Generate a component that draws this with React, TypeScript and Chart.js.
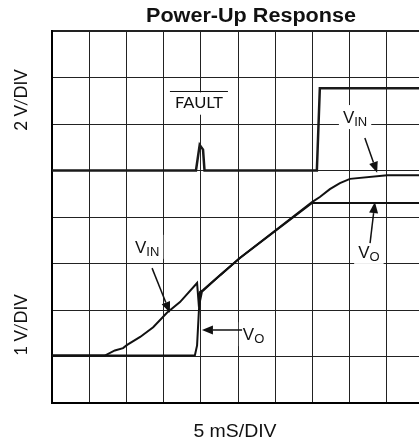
import React, { useEffect, useRef } from "react";
import { Chart, registerables } from "chart.js";

Chart.register(...registerables);

// Data in scope divisions (x: 5 mS/div, y: divisions)
const faultX = [0, 3.87, 3.97, 4.06, 4.1, 7.12, 7.2, 10];
const faultY = [5.0, 5.0, 5.55, 5.45, 5.0, 5.0, 6.77, 6.77];

const vinX = [0, 1.42, 1.69, 1.91, 2.02, 2.37, 2.72, 3.09, 3.44, 3.9, 3.94, 3.98, 4.06, 4.52, 5.05, 6.02, 6.99, 7.2, 7.47, 7.74, 8.01, 9.01, 10];
const vinY = [1.02, 1.02, 1.13, 1.18, 1.25, 1.42, 1.63, 1.94, 2.17, 2.58, 2.17, 2.39, 2.43, 2.75, 3.12, 3.72, 4.32, 4.43, 4.6, 4.73, 4.82, 4.9, 4.9];

const voX = [0, 3.84, 3.9, 3.95, 3.98, 4.03, 4.52, 5.05, 6.99, 10];
const voY = [1.02, 1.02, 1.24, 2.0, 2.2, 2.39, 2.75, 3.12, 4.3, 4.3];

const titleText = "Power-Up Response";
const xAxisLabel = "5 mS/DIV";
const yLabelTop = "2 V/DIV";
const yLabelBottom = "1 V/DIV";

const toPts = (xs: number[], ys: number[]) => xs.map((x, i) => ({ x, y: ys[i] }));

function drawText(ctx: CanvasRenderingContext2D, text: string, x: number, y: number, font: string, sx: number, align: CanvasTextAlign, rot = 0) {
  ctx.save();
  ctx.font = font;
  ctx.fillStyle = "#111";
  ctx.translate(x, y);
  if (rot) ctx.rotate(rot);
  ctx.scale(sx, 1);
  ctx.textAlign = align;
  ctx.textBaseline = "alphabetic";
  ctx.fillText(text, 0, 0);
  ctx.restore();
}

function arrow(ctx: CanvasRenderingContext2D, x1: number, y1: number, x2: number, y2: number) {
  const ang = Math.atan2(y2 - y1, x2 - x1);
  const len = 11, w = 4.5;
  const bx = x2 - len * Math.cos(ang), by = y2 - len * Math.sin(ang);
  ctx.save();
  ctx.strokeStyle = "#111";
  ctx.fillStyle = "#111";
  ctx.lineWidth = 1.5;
  ctx.beginPath();
  ctx.moveTo(x1, y1);
  ctx.lineTo(bx, by);
  ctx.stroke();
  ctx.beginPath();
  ctx.moveTo(x2, y2);
  ctx.lineTo(bx + w * Math.sin(ang), by - w * Math.cos(ang));
  ctx.lineTo(bx - w * Math.sin(ang), by + w * Math.cos(ang));
  ctx.closePath();
  ctx.fill();
  ctx.restore();
}

function subLabel(ctx: CanvasRenderingContext2D, x: number, y: number, main: string, sub: string) {
  ctx.save();
  ctx.font = "17px 'Liberation Sans', Arial, sans-serif";
  const w1 = ctx.measureText(main).width;
  ctx.font = "13px 'Liberation Sans', Arial, sans-serif";
  const w2 = ctx.measureText(sub).width;
  ctx.fillStyle = "#fff";
  ctx.fillRect(x - 4, y - 18, w1 + w2 + 8, 24);
  ctx.restore();
  drawText(ctx, main, x, y, "17px 'Liberation Sans', Arial, sans-serif", 1, "left");
  drawText(ctx, sub, x + w1, y + 3, "13px 'Liberation Sans', Arial, sans-serif", 1, "left");
}

const annotationPlugin = {
  id: "scopeAnnotations",
  afterDraw(chart: any) {
    const ctx: CanvasRenderingContext2D = chart.ctx;
    const xs = chart.scales.x, ys = chart.scales.y;
    const px = (v: number) => xs.getPixelForValue(v);
    const py = (v: number) => ys.getPixelForValue(v);
    const ca = chart.chartArea;

    // Title and axis labels
    drawText(ctx, titleText, 251, 22, "bold 20px 'Liberation Sans', Arial, sans-serif", 1.08, "center");
    drawText(ctx, xAxisLabel, 235, 437, "18px 'Liberation Sans', Arial, sans-serif", 1.08, "center");
    drawText(ctx, yLabelTop, 27, 100, "17px Lato, 'Open Sans', sans-serif", 1, "center", -Math.PI / 2);
    drawText(ctx, yLabelBottom, 27, 325, "17px Lato, 'Open Sans', sans-serif", 1, "center", -Math.PI / 2);

    // FAULT label with overline
    ctx.save();
    ctx.fillStyle = "#fff";
    ctx.fillRect(px(3.2), py(6.68), px(4.7) - px(3.2), py(6.2) - py(6.68));
    ctx.strokeStyle = "#111";
    ctx.lineWidth = 1;
    ctx.beginPath();
    ctx.moveTo(px(3.17), py(6.71) + 0.5);
    ctx.lineTo(px(4.73), py(6.71) + 0.5);
    ctx.stroke();
    ctx.restore();
    drawText(ctx, "FAULT", px(3.95), py(6.34), "15px Lato, 'Open Sans', sans-serif", 1.1, "center");

    // Upper V_IN
    subLabel(ctx, px(7.82), py(6.02), "V", "IN");
    arrow(ctx, px(8.41), py(5.7), px(8.74), py(4.95));
    // Upper V_O
    subLabel(ctx, px(8.23), py(3.12), "V", "O");
    arrow(ctx, px(8.55), py(3.44), px(8.68), py(4.32));
    // Lower V_IN
    subLabel(ctx, px(2.23), py(3.23), "V", "IN");
    arrow(ctx, px(2.69), py(2.9), px(3.17), py(1.94));
    // Lower V_O
    subLabel(ctx, px(5.13), py(1.35), "V", "O");
    arrow(ctx, px(5.11), py(1.57), px(4.03), py(1.57));
    void ca;
  },
};

export default function App() {
  const ref = useRef<HTMLCanvasElement | null>(null);
  useEffect(() => {
    if (!ref.current) return;
    const chart = new Chart(ref.current, {
      type: "line",
      data: {
        datasets: [
          { label: "FAULT", data: toPts(faultX, faultY), borderColor: "#1a1a1a", borderWidth: 2.5, pointRadius: 0, tension: 0 },
          { label: "VIN", data: toPts(vinX, vinY), borderColor: "#111", borderWidth: 2, pointRadius: 0, tension: 0 },
          { label: "VO", data: toPts(voX, voY), borderColor: "#111", borderWidth: 2, pointRadius: 0, tension: 0 },
        ],
      },
      options: {
        responsive: false,
        animation: false,
        devicePixelRatio: 1,
        layout: { padding: { left: 52, top: 31, right: 16, bottom: 37 } },
        plugins: { legend: { display: false }, tooltip: { enabled: false }, title: { display: false } },
        scales: {
          x: {
            type: "linear",
            min: 0,
            max: 10,
            ticks: { display: false, stepSize: 1 },
            grid: { color: "#222", lineWidth: 1, drawTicks: false },
            border: { display: true, color: "#000", width: 2 },
            afterFit: (s: any) => { s.height = 0; },
          },
          y: {
            type: "linear",
            min: 0,
            max: 8,
            ticks: { display: false, stepSize: 1 },
            grid: {
              color: "#222",
              lineWidth: (c: any) => (c.tick && c.tick.value === 8 ? 2 : 1),
              drawTicks: false,
            },
            border: { display: true, color: "#000", width: 2 },
            afterFit: (s: any) => { s.width = 0; },
          },
        },
      },
      plugins: [annotationPlugin],
    } as any);
    return () => chart.destroy();
  }, []);
  return (
    <div style={{ position: "absolute", left: 0, top: 0, width: 419, height: 440, overflow: "hidden", background: "#fff" }}>
      <canvas ref={ref} width={440} height={440} />
    </div>
  );
}
